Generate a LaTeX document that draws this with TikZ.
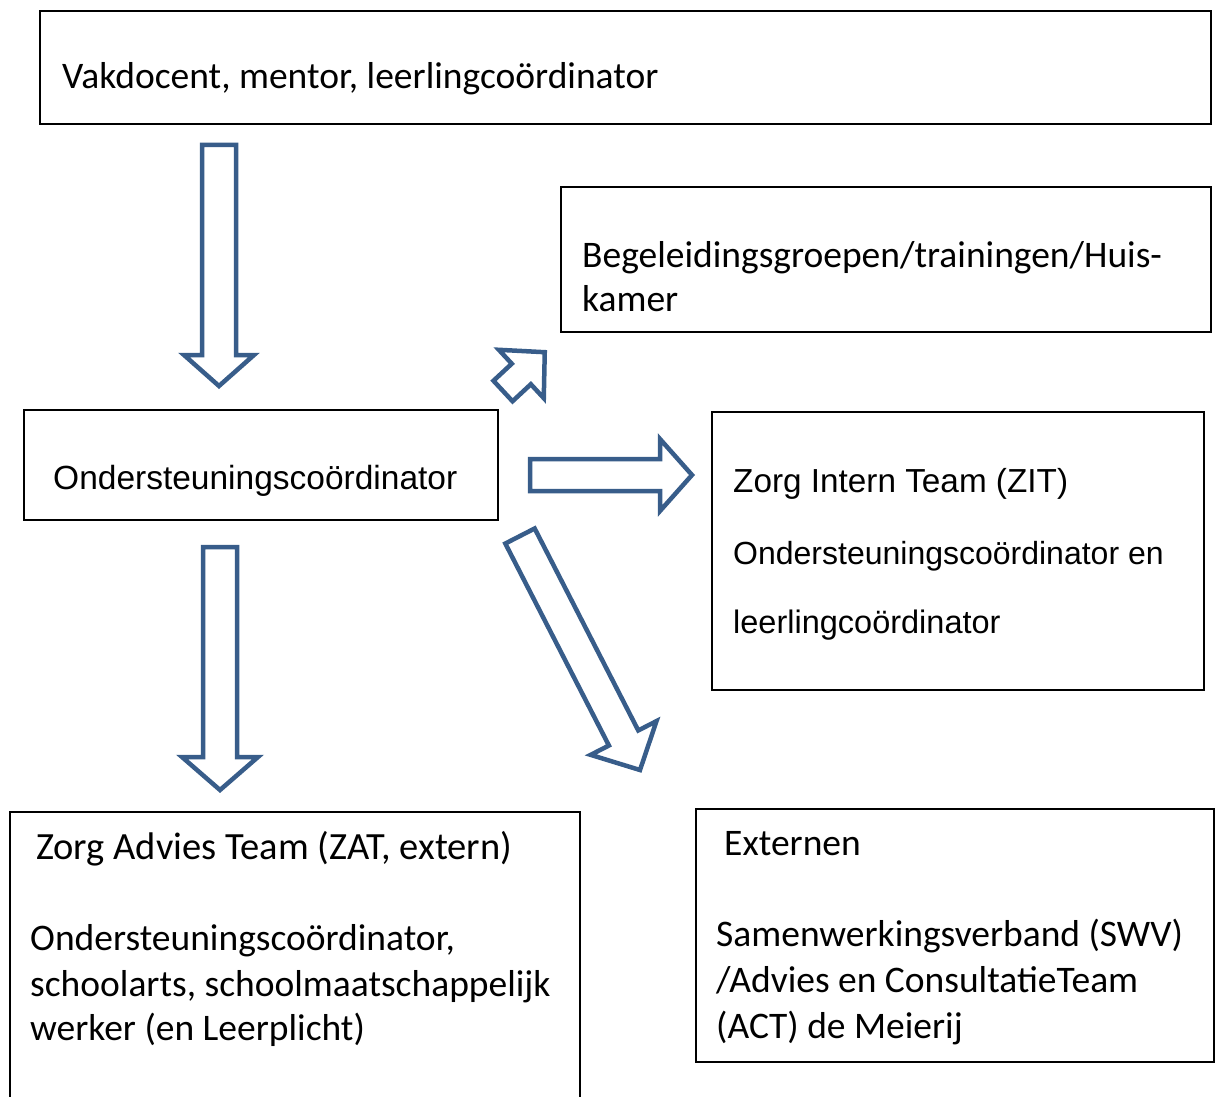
\documentclass[tikz,border=0pt]{standalone}
\usepackage{fontspec}
\setmainfont{Carlito}
\newfontfamily\arialf{Liberation Sans}
\definecolor{arrowblue}{HTML}{385D8A}
\tikzset{
  box/.style={draw=black, line width=1.8pt, inner sep=0pt, outer sep=0pt, anchor=north west},
  txt/.style={anchor=base west, inner sep=0pt, font=\fontsize{37.5}{44}\selectfont},
  atxt/.style={anchor=base west, inner sep=0pt, font=\arialf\fontsize{32.5}{40}\selectfont},
  barrow/.style={draw=arrowblue, line width=4.5pt, fill=white, line join=miter},
}
% back x, back y, canvas angle, length, head length, shaft half width, head half width
\newcommand\blockarr[7]{%
  \draw[barrow, shift={(#1,#2)}, rotate=#3]
    (0,-#6) -- ({#4-#5},-#6) -- ({#4-#5},-#7) -- (#4,0) -- ({#4-#5},#7) -- ({#4-#5},#6) -- (0,#6) -- cycle;}
\begin{document}
\begin{tikzpicture}[x=1pt,y=-1pt]
\useasboundingbox (0,0) rectangle (1219,1097);
\clip (0,0) rectangle (1219,1097);
% boxes
\node[box, minimum width=1171pt, minimum height=113pt] (top) at (40,11) {};
\node[box, minimum width=650pt, minimum height=145pt] (beg) at (561,187) {};
\node[box, minimum width=474pt, minimum height=110pt] (mid) at (24,410) {};
\node[box, minimum width=492pt, minimum height=278pt] (zit) at (712,412) {};
\node[box, minimum width=570pt, minimum height=300pt] (zat) at (10,812) {};
\node[box, minimum width=518pt, minimum height=253pt] (ext) at (696,809) {};
% texts
\node[txt] (t1) at (62,89) {Vakdocent, mentor, leerlingcoördinator};
\node[txt] (t2a) at (582,267) {Begeleidingsgroepen/trainingen/Huis-};
\node[txt] (t2b) at (582,311) {kamer};
\node[atxt, font=\arialf\fontsize{33.5}{40}\selectfont] (t3) at (53,489) {Ondersteuningscoördinator};
\node[atxt, font=\arialf\fontsize{33.3}{40}\selectfont] (t4a) at (733,492) {Zorg Intern Team (ZIT)};
\node[atxt, font=\arialf\fontsize{32}{40}\selectfont] (t4b) at (733,564) {Ondersteuningscoördinator en};
\node[atxt] (t4c) at (733,633) {leerlingcoördinator};
\node[txt, font=\fontsize{38.5}{44}\selectfont] (t5a) at (36,859) {Zorg Advies Team (ZAT, extern)};
\node[txt] (t5b) at (30,950) {Ondersteuningscoördinator,};
\node[txt] (t5c) at (30,996) {schoolarts, schoolmaatschappelijk};
\node[txt] (t5d) at (30,1040) {werker (en Leerplicht)};
\node[txt] (t6a) at (724,855) {Externen};
\node[txt] (t6b) at (716,946) {Samenwerkingsverband (SWV)};
\node[txt] (t6c) at (716,992) {/Advies en ConsultatieTeam};
\node[txt] (t6d) at (716,1038) {(ACT) de Meierij};
% block arrows
\blockarr{219}{145}{-90}{241}{31}{17}{35}
\blockarr{220}{547}{-90}{243}{33}{17}{38}
\blockarr{530}{475}{0}{162}{32}{16}{36}
\blockarr{520}{536}{-62.85}{263}{36}{16.5}{37}
\blockarr{503}{391}{42.9}{57}{32}{14}{33}
\end{tikzpicture}
\end{document}
